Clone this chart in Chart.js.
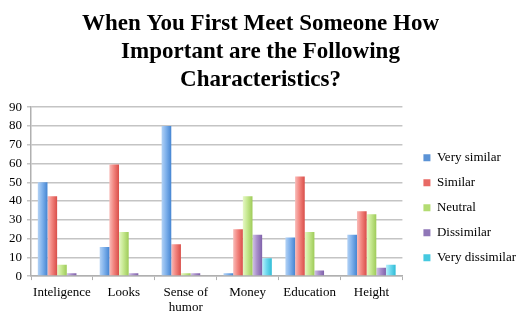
<!DOCTYPE html>
<html><head><meta charset="utf-8">
<script src="https://cdn.jsdelivr.net/npm/chart.js@4/dist/chart.umd.min.js"></script>
<style>html,body{margin:0;padding:0;background:#fff}#wrap{width:528px;height:318px}</style>
</head><body><div id="wrap"><canvas id="c" width="528" height="318"></canvas></div>
<script>
const categories = ['Inteligence', 'Looks', ['Sense of', 'humor'], 'Money', 'Education', 'Height'];
const seriesNames = ['Very similar', 'Similar', 'Neutral', 'Dissimilar', 'Very dissimilar'];
const verySimilar = [50, 15.5, 80, 1.5, 20.5, 22];
const similar = [42.5, 59.5, 17, 25, 53, 34.5];
const neutral = [6, 23.5, 1.5, 42.5, 23.5, 33];
const dissimilar = [1.5, 1.5, 1.5, 22, 3, 4.5];
const veryDissimilar = [0, 0, 0, 9.5, 0, 6];
const yTicks = [0, 10, 20, 30, 40, 50, 60, 70, 80, 90];

const gradStops = [
  ['#b3d2f5', '#80b2ec', '#4585d2'],
  ['#f9bcb9', '#f2857f', '#d94e49'],
  ['#e6f7c6', '#c6e890', '#9ecb58'],
  ['#d2c4e6', '#a98fcb', '#7f61aa'],
  ['#b9f1fb', '#6fd9ef', '#2fbcd6']
];
const legendColors = ['#5b93d6', '#e86a65', '#b3dc72', '#9077b8', '#45c9e0'];

const allData = [verySimilar, similar, neutral, dissimilar, veryDissimilar];
const datasets = seriesNames.map((n, i) => ({
  label: n,
  data: allData[i],
  backgroundColor: legendColors[i],
  borderWidth: 0,
  categoryPercentage: 0.78,
  barPercentage: 1.0
}));

const gradientPlugin = {
  id: 'barGradient',
  beforeDatasetsDraw(chart) {
    const c = chart.ctx;
    chart.data.datasets.forEach((ds, i) => {
      const meta = chart.getDatasetMeta(i);
      meta.data.forEach(el => {
        const x0 = el.x - el.width / 2, x1 = el.x + el.width / 2;
        const g = c.createLinearGradient(x0, 0, x1, 0);
        g.addColorStop(0, gradStops[i][0]);
        g.addColorStop(0.45, gradStops[i][1]);
        g.addColorStop(1, gradStops[i][2]);
        el.options = Object.assign({}, el.options, { backgroundColor: g });
      });
    });
  }
};

const legendShift = {
  id: 'legendShift',
  afterLayout(chart) {
    const lg = chart.legend;
    if (!lg) return;
    const h = lg.bottom - lg.top;
    lg.top = chart.chartArea.top + 32;
    lg.bottom = lg.top + h;
    lg.left += 9;
    lg.right += 9;
  }
};

new Chart(document.getElementById('c'), {
  type: 'bar',
  data: { labels: categories, datasets },
  plugins: [gradientPlugin, legendShift],
  options: {
    responsive: false,
    animation: false,
    devicePixelRatio: 1,
    layout: { padding: { left: 4, right: 11, top: 4, bottom: -2 } },
    plugins: {
      title: {
        display: true,
        text: ['When You First Meet Someone How', 'Important are the Following', 'Characteristics?'],
        font: { family: 'Liberation Serif', size: 23, weight: 'bold', lineHeight: 1.22 },
        color: '#000',
        padding: { top: 6, bottom: 13 }
      },
      legend: {
        position: 'right',
        align: 'start',
        labels: {
          font: { family: 'Liberation Serif', size: 13 },
          color: '#000',
          boxWidth: 7,
          boxHeight: 7,
          padding: 12,
          generateLabels: (chart) => seriesNames.map((n, i) => ({
            text: n, fillStyle: legendColors[i], strokeStyle: legendColors[i], lineWidth: 0,
            datasetIndex: i, hidden: false
          }))
        }
      },
      tooltip: { enabled: false }
    },
    scales: {
      x: {
        grid: { display: true, drawOnChartArea: false, drawTicks: true, tickLength: 4, color: '#b0b0b0', offset: true },
        border: { color: '#b0b0b0', width: 1.5 },
        ticks: { font: { family: 'Liberation Serif', size: 13, lineHeight: 1.15 }, color: '#000', padding: 5, maxRotation: 0, autoSkip: false }
      },
      y: {
        min: 0, max: 90,
        afterBuildTicks: (axis) => { axis.ticks = yTicks.map(v => ({ value: v })); },
        grid: { color: '#c4c4c4', lineWidth: 1.5, tickLength: 4 },
        border: { color: '#b0b0b0', width: 1.5 },
        ticks: { font: { family: 'Liberation Serif', size: 13 }, color: '#000', padding: 5, autoSkip: false }
      }
    }
  }
});
</script></body></html>
